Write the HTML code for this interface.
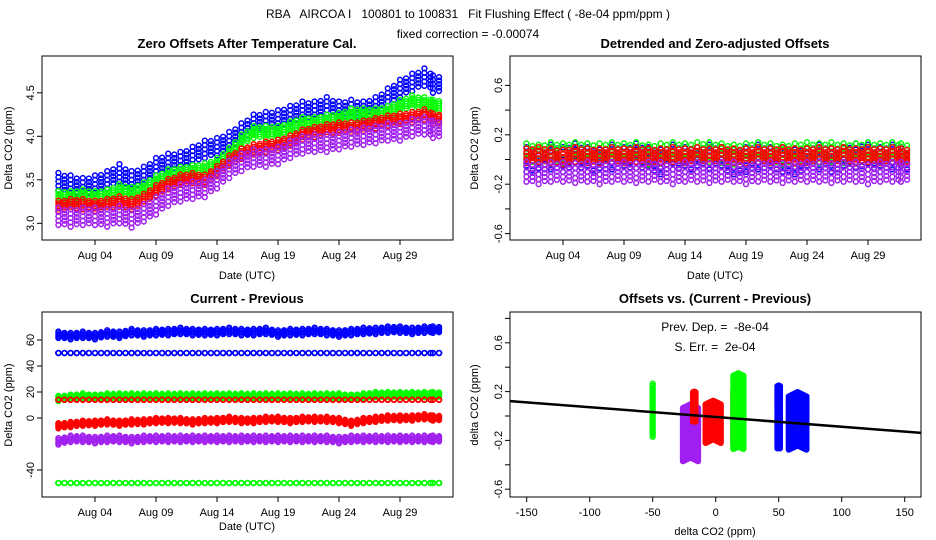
<!DOCTYPE html>
<html><head><meta charset="utf-8"><style>
body{margin:0;background:#fff}
svg{font-family:"Liberation Sans",sans-serif;display:block}
text{white-space:pre}
.t{font-size:13px;font-weight:bold}
.a{font-size:11px}
</style></head><body>
<svg id="c" width="936" height="540"></svg>
<script>
const days=[1.5,2.5,3.5,4.5,5.5,6.5,7.5,8.5,9.5,10.5,11.5,12.5,13.5,14.5,15.5,16.5,17.5,18.5,19.5,20.5,21.5,22.5,23.5,24.5,25.5,26.5,27.5,28.5,29.5,30.5,31.5,32.2];
const blue1=[3.48,3.45,3.42,3.45,3.5,3.58,3.5,3.55,3.65,3.7,3.72,3.78,3.85,3.88,3.95,4.05,4.15,4.18,4.2,4.25,4.3,4.3,4.35,4.3,4.32,4.3,4.35,4.45,4.55,4.62,4.68,4.6];
const green1=[3.3,3.3,3.32,3.3,3.32,3.38,3.35,3.4,3.48,3.55,3.58,3.6,3.62,3.68,3.8,3.95,4.05,4.05,4.05,4.1,4.15,4.15,4.18,4.2,4.25,4.25,4.25,4.28,4.35,4.4,4.38,4.35];
const red1=[3.2,3.22,3.22,3.2,3.22,3.25,3.22,3.28,3.38,3.45,3.5,3.52,3.5,3.6,3.72,3.8,3.85,3.88,3.9,3.95,4.02,4.05,4.08,4.1,4.1,4.12,4.15,4.18,4.2,4.22,4.25,4.2];
const purple1=[3.08,3.06,3.08,3.08,3.06,3.1,3.05,3.12,3.2,3.3,3.35,3.38,3.4,3.5,3.62,3.7,3.75,3.75,3.78,3.85,3.9,3.92,3.92,3.95,3.98,4.0,4.02,4.05,4.05,4.1,4.12,4.08];
const blue2=[0.0,-0.02,0.02,0.0,0.03,0.0,-0.02,0.02,0.0,0.03,0.0,-0.02,0.02,0.0,0.0,0.02,0.0,-0.02,0.0,0.02,0.0,0.0,-0.02,0.0,0.02,0.0,0.0,0.03,0.02,0.0,0.02,0.0];
const green2=[0.05,0.04,0.06,0.05,0.06,0.05,0.05,0.06,0.05,0.06,0.04,0.05,0.06,0.05,0.06,0.06,0.05,0.04,0.05,0.06,0.05,0.04,0.05,0.06,0.05,0.06,0.05,0.05,0.06,0.05,0.06,0.05];
const red2=[0.03,0.04,0.03,0.02,0.04,0.03,0.03,0.04,0.03,0.04,0.03,0.03,0.04,0.03,0.04,0.03,0.04,0.03,0.03,0.04,0.03,0.04,0.03,0.03,0.04,0.03,0.04,0.03,0.04,0.03,0.04,0.03];
const purple2=[-0.1,-0.12,-0.1,-0.1,-0.11,-0.1,-0.12,-0.1,-0.1,-0.11,-0.1,-0.1,-0.12,-0.1,-0.1,-0.11,-0.1,-0.1,-0.12,-0.1,-0.1,-0.11,-0.1,-0.1,-0.1,-0.11,-0.1,-0.1,-0.12,-0.1,-0.1,-0.1];
const blue3=[64,63,64,63,65,64,66,65,66,66,67,66,66,66,67,66,66,67,65,66,66,67,66,65,66,67,67,68,68,67,68,68];
const blue3b=[50,50,50,50,50,50,50,50,50,50,50,50,50,50,50,50,50,50,50,50,50,50,50,50,50,50,50,50,50,50,50,50];
const green3=[15,16,17,16,17,17,17,17,17,17,17,17,17,17,17,17,17,17,17,17,17,17,17,17,16,17,18,18,18,18,18,18];
const green3b=[-50,-50,-50,-50,-50,-50,-50,-50,-50,-50,-50,-50,-50,-50,-50,-50,-50,-50,-50,-50,-50,-50,-50,-50,-50,-50,-50,-50,-50,-50,-50,-50];
const red3=[14,14,14,14,14,14,14,14,14,14,14,14,14,14,14,14,14,14,14,14,14,14,14,14,14,14,14,14,14,14,14,14];
const red3b=[-6,-5,-4,-4,-3,-4,-3,-3,-2,-2,-2,-3,-2,-2,-1,-2,-2,-1,-1,-2,-1,-1,-1,-2,-4,-2,-1,0,0,0,1,0];
const purple3=[-18,-16,-16,-17,-16,-16,-17,-16,-16,-16,-16,-16,-16,-16,-16,-16,-16,-16,-16,-16,-16,-16,-16,-17,-16,-16,-16,-16,-16,-16,-16,-16];
const clusterX=[-50,-20,-17,-2,15,18,50,65];
const clusterMid=[0.05,-0.12,0.08,-0.03,0.0,0.05,0.0,-0.02];
const clusterHalf=[0.22,0.22,0.12,0.16,0.22,0.3,0.26,0.22];
const clusterW=[0,6,1,6,1,4,1,7];
const clusterCol=["#00ff00","#a020f0","#ff0000","#ff0000","#ff0000","#00ff00","#0000ff","#0000ff"];
const slope=-0.0008, intercept=-0.008;

const S=document.getElementById('c'),NS='http://www.w3.org/2000/svg';
function el(t,a,txt){const e=document.createElementNS(NS,t);for(const k in a)e.setAttribute(k,a[k]);if(txt!==undefined)e.textContent=txt;S.appendChild(e);return e;}
function txt(x,y,s,cls,name,rot){const a={x:x,y:y,'text-anchor':'middle',class:cls};if(rot)a.transform='rotate(-90 '+x+' '+y+')';const e=el('text',a,s);return e;}
function box(x0,y0,x1,y1,name){const e=el('rect',{x:x0,y:y0,width:x1-x0,height:y1-y0,fill:'none',stroke:'#000'});}
function dot(x,y,c){const e=el('circle',{cx:x,cy:y,r:2.4,fill:'none',stroke:c,'stroke-width':1.5});}
function xt(x,y0,label){el('line',{x1:x,y1:y0,x2:x,y2:y0+5,stroke:'#000'});txt(x,y0+19,label,'a','x-tick-label');}
function yt(x0,y,label){el('line',{x1:x0,y1:y,x2:x0-5,y2:y,stroke:'#000'});txt(x0-12,y,label,'a','y-tick-label',true).setAttribute('dy','4');}

txt(468,18,'RBA   AIRCOA I   100801 to 100831   Fit Flushing Effect ( -8e-04 ppm/ppm )','a','main-title').style.fontSize='12px';
txt(468,38,'fixed correction = -0.00074','a','subtitle').style.fontSize='12px';

const dateLabels=['Aug 04','Aug 09','Aug 14','Aug 19','Aug 24','Aug 29'];
const dateTicks=[4,9,14,19,24,29];
function X1(d,off){return off+95+(d-4)*12.2;}
const offs=[-1,-0.5,0,0.5,1];
function series(ox,Y,arr,spread,col){days.forEach((d,i)=>{for(const h of [0,0.5]){const v=arr[i]+(arr[Math.min(i+1,arr.length-1)]-arr[i])*h;offs.forEach(o=>dot(X1(d+h-0.5,ox),Y(v+o*spread*(h?0.8:1)),col));}});}

txt(247,48,'Zero Offsets After Temperature Cal.','t','panel1-title');
const Y1=v=>223.3-(v-3)*87;
series(0,Y1,blue1,0.1,'#0000ff');series(0,Y1,green1,0.07,'#00ff00');series(0,Y1,red1,0.06,'#ff0000');series(0,Y1,purple1,0.1,'#a020f0');
box(42,56,453,240,'panel1-plot-area');
dateTicks.forEach((d,i)=>xt(X1(d,0),240,dateLabels[i]));
[3.0,3.5,4.0,4.5].forEach(v=>yt(42,Y1(v),v.toFixed(1)));
txt(247,279,'Date (UTC)','a','panel1-x-axis-title');
txt(12,148,'Delta CO2 (ppm)','a','panel1-y-axis-title',true);

txt(715,48,'Detrended and Zero-adjusted Offsets','t','panel2-title');
const Y2=v=>159.5-v*123.5;
series(468,Y2,blue2,0.1,'#0000ff');series(468,Y2,green2,0.08,'#00ff00');series(468,Y2,red2,0.06,'#ff0000');series(468,Y2,purple2,0.08,'#a020f0');
box(510,56,921,240,'panel2-plot-area');
dateTicks.forEach((d,i)=>xt(X1(d,468),240,dateLabels[i]));
[-0.6,-0.2,0.2,0.6].forEach(v=>yt(510,Y2(v),String(v)));
[-0.4,0,0.4].forEach(v=>el('line',{x1:510,y1:Y2(v),x2:505,y2:Y2(v),stroke:'#000'}));
txt(715,279,'Date (UTC)','a','panel2-x-axis-title');
txt(478,148,'Delta CO2 (ppm)','a','panel2-y-axis-title',true);

txt(247,303,'Current - Previous','t','panel3-title');
const Y3=v=>418-v*1.3;
series(0,Y3,blue3,2.5,'#0000ff');series(0,Y3,blue3b,0,'#0000ff');series(0,Y3,green3,2,'#00ff00');series(0,Y3,green3b,0,'#00ff00');
series(0,Y3,red3,0,'#ff0000');series(0,Y3,red3b,2,'#ff0000');series(0,Y3,purple3,2.5,'#a020f0');
box(42,312,453,497,'panel3-plot-area');
dateTicks.forEach((d,i)=>xt(X1(d,0),497,dateLabels[i]));
[-40,0,20,40,60].forEach(v=>yt(42,Y3(v),String(v)));
txt(247,530,'Date (UTC)','a','panel3-x-axis-title');
txt(12,405,'Delta CO2 (ppm)','a','panel3-y-axis-title',true);

txt(715,303,'Offsets vs. (Current - Previous)','t','panel4-title');
const X4=v=>715.7+v*1.26, Y4=v=>416-v*122;
clusterX.forEach((cx,i)=>{for(let k=-clusterHalf[i];k<=clusterHalf[i]+1e-9;k+=0.015){for(let w=-clusterW[i];w<=clusterW[i]+1e-9;w+=1){dot(X4(cx+w),Y4(clusterMid[i]+k-Math.abs(w)*0.005),clusterCol[i]);}}});
const ln=el('line',{x1:X4(-163),y1:Y4(intercept+slope*-163),x2:X4(163),y2:Y4(intercept+slope*163),stroke:'#000','stroke-width':2.5});

box(510,312,921,497,'panel4-plot-area');
[-150,-100,-50,0,50,100,150].forEach(v=>xt(X4(v),497,String(v)));
[-0.6,-0.2,0.2,0.6].forEach(v=>yt(510,Y4(v),String(v)));
[-0.4,0,0.4,0.8].forEach(v=>el('line',{x1:510,y1:Y4(v),x2:505,y2:Y4(v),stroke:'#000'}));
txt(715,535,'delta CO2 (ppm)','a','panel4-x-axis-title');
txt(478,405,'delta CO2 (ppm)','a','panel4-y-axis-title',true);
txt(715,331,'Prev. Dep. =  -8e-04','a','prev-dep-annotation').style.fontSize='12px';
txt(715,351,'S. Err. =  2e-04','a','std-err-annotation').style.fontSize='12px';
</script>
</body></html>
